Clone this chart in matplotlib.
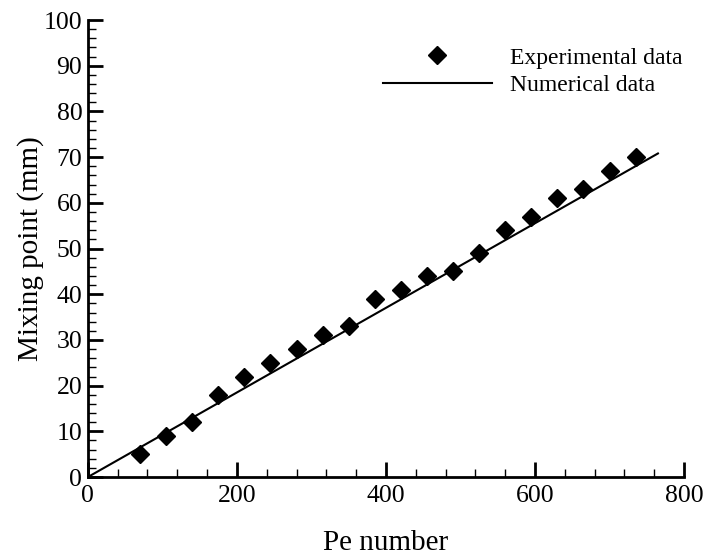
import numpy as np
import matplotlib
matplotlib.use("Agg")
from matplotlib import pyplot as plt
from matplotlib.ticker import MultipleLocator

# experimental points
pe_exp = [70, 105, 140, 175, 210, 245, 280, 315, 350, 385,
          420, 455, 490, 525, 560, 595, 630, 665, 700, 735]
mix_exp = [5, 9, 12, 18, 22, 25, 28, 31, 33, 39,
           41, 44, 45, 49, 54, 57, 61, 63, 67, 70]

# numerical line
pe_num = [0, 765]
mix_num = [0, 70.8]

plt.rcParams['font.family'] = ['Liberation Serif', 'DejaVu Serif']

fig = plt.figure(figsize=(7.03, 5.56), dpi=100)
ax = fig.add_axes([0.125, 0.142, 0.848, 0.822])

ax.plot(pe_exp, mix_exp, 'D', color='black', markersize=9.5,
        linestyle='none', label='Experimental data', clip_on=False)
ax.plot(pe_num, mix_num, '-', color='black', linewidth=1.5,
        label='Numerical data')

ax.set_xlim(0, 800)
ax.set_ylim(0, 100)
ax.xaxis.set_major_locator(MultipleLocator(200))
ax.xaxis.set_minor_locator(MultipleLocator(40))
ax.yaxis.set_major_locator(MultipleLocator(10))
ax.yaxis.set_minor_locator(MultipleLocator(2))

for s in ['top', 'right']:
    ax.spines[s].set_visible(False)
for s in ['left', 'bottom']:
    ax.spines[s].set_linewidth(2.0)

ax.tick_params(which='major', direction='in', length=11, width=2,
               labelsize=18.5, pad=4)
ax.tick_params(axis='x', which='major', pad=6)
ax.tick_params(which='minor', direction='in', length=6, width=1)

ax.set_xlabel('Pe number', fontsize=21, labelpad=16)
ax.set_ylabel('Mixing point (mm)', fontsize=21, labelpad=0)

ax.legend(loc='upper right', bbox_to_anchor=(1.022, 0.972), frameon=False,
          fontsize=17, handlelength=4.6, handletextpad=0.8,
          labelspacing=0.25, borderaxespad=0.2)

fig.savefig('out.png', dpi=100)
